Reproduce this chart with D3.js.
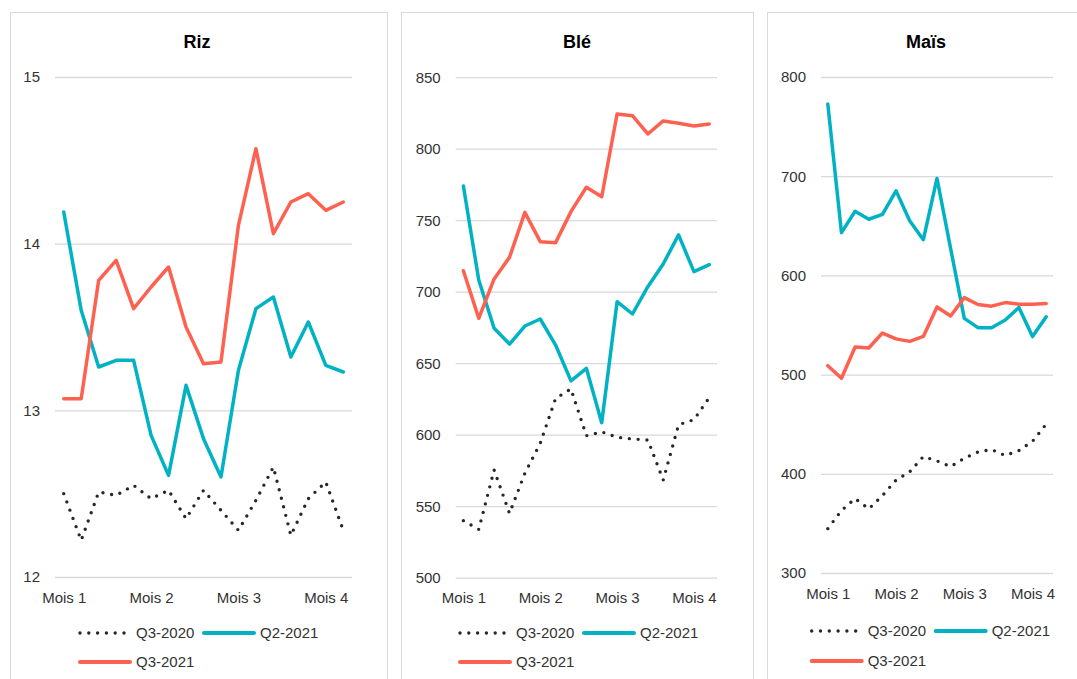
<!DOCTYPE html>
<html><head><meta charset="utf-8">
<script src="https://cdn.jsdelivr.net/npm/d3@7"></script>
<style>
body{margin:0;background:#fff;}
svg{display:block;font-family:"Liberation Sans",Arial,Helvetica,sans-serif;}
</style></head><body>
<svg id="c" width="1077" height="679"></svg>
<script>
// ---- data ----
const titles = ["Riz", "Blé", "Maïs"];
const seriesNames = ["Q3-2020", "Q2-2021", "Q3-2021"];
const periods = [0, 1, 2, 3, 4, 5, 6, 7, 8, 9, 10, 11, 12, 13, 14, 15, 16];
const monthTicks = [0, 5, 10, 15];
const monthLabels = ["Mois 1", "Mois 2", "Mois 3", "Mois 4"];

const rizTicks = [12, 13, 14, 15];
const bleTicks = [500, 550, 600, 650, 700, 750, 800, 850];
const maisTicks = [300, 400, 500, 600, 700, 800];

const rizQ3_2020 = [12.50, 12.22, 12.51, 12.49, 12.55, 12.47, 12.52, 12.35, 12.52, 12.40, 12.28, 12.46, 12.66, 12.25, 12.47, 12.57, 12.28];
const rizQ2_2021 = [14.19, 13.60, 13.26, 13.30, 13.30, 12.85, 12.61, 13.15, 12.83, 12.60, 13.24, 13.61, 13.68, 13.32, 13.53, 13.27, 13.23];
const rizQ3_2021 = [13.07, 13.07, 13.78, 13.90, 13.61, 13.74, 13.86, 13.50, 13.28, 13.29, 14.11, 14.57, 14.06, 14.25, 14.30, 14.20, 14.25];

const bleQ3_2020 = [539.9, 533.8, 575.3, 545.0, 573.0, 594.0, 625.4, 632.0, 599.3, 602.0, 598.2, 597.0, 596.3, 568.3, 607.0, 610.5, 626.0];
const bleQ2_2021 = [773.9, 708.2, 674.4, 663.4, 676.0, 680.9, 662.7, 637.6, 646.4, 608.4, 693.0, 684.4, 703.5, 719.4, 739.7, 714.0, 718.9];
const bleQ3_2021 = [714.7, 681.4, 708.9, 724.0, 755.5, 735.0, 734.3, 756.0, 773.0, 766.4, 824.3, 823.1, 810.3, 819.4, 817.8, 815.9, 817.3];

const maisQ3_2020 = [344.7, 363.0, 375.0, 364.6, 378.0, 393.7, 402.0, 417.4, 413.0, 407.3, 415.7, 422.0, 424.4, 418.4, 423.4, 432.8, 450.0];
const maisQ2_2021 = [772.7, 643.1, 664.6, 656.6, 661.6, 685.2, 655.0, 636.0, 697.7, 627.0, 556.7, 547.3, 547.3, 555.0, 567.7, 538.3, 558.3];
const maisQ3_2021 = [509.0, 496.3, 527.8, 526.8, 541.9, 536.0, 533.5, 538.5, 568.2, 559.0, 577.6, 570.6, 569.0, 572.6, 571.0, 571.0, 571.7];

// ---- layout / style ----
const colors = ["#262626", "#00B2C3", "#FF6150"];
const panels = [
  {title: titles[0], ticks: rizTicks, dom: [12, 15], series: [rizQ3_2020, rizQ2_2021, rizQ3_2021],
   box: [10.5, 12.5, 377], grid: [55, 352], yr: [577, 77], titleX: 197, xLabY: 603, leg: [80, 633, 662]},
  {title: titles[1], ticks: bleTicks, dom: [500, 850], series: [bleQ3_2020, bleQ2_2021, bleQ3_2021],
   box: [401.5, 12.5, 352], grid: [455.7, 717], yr: [577.7, 77.2], titleX: 577, xLabY: 603, leg: [460, 633, 662]},
  {title: titles[2], ticks: maisTicks, dom: [300, 800], series: [maisQ3_2020, maisQ2_2021, maisQ3_2021],
   box: [767.5, 12.5, 320], grid: [821, 1053], yr: [573, 77], titleX: 926, xLabY: 599, leg: [811.7, 631, 661]}
];

const svg = d3.select("#c");
svg.append("rect").attr("width", 1077).attr("height", 679).attr("fill", "#fff");

panels.forEach(p => {
  const g = svg.append("g");
  g.append("rect").attr("x", p.box[0]).attr("y", p.box[1]).attr("width", p.box[2]).attr("height", 720)
    .attr("fill", "#fff").attr("stroke", "#d9d9d9").attr("stroke-width", 1);

  g.append("text").attr("x", p.titleX).attr("y", 48).attr("text-anchor", "middle")
    .attr("font-size", 18).attr("font-weight", "bold").attr("fill", "#000").text(p.title);

  const x = d3.scalePoint().domain(periods).range(p.grid).padding(0.5);
  const y = d3.scaleLinear().domain(p.dom).range(p.yr);

  // y axis with gridlines
  const ya = g.append("g").attr("transform", `translate(${p.grid[0]},0)`)
    .call(d3.axisLeft(y).tickValues(p.ticks).tickSize(-(p.grid[1] - p.grid[0])).tickPadding(15).tickFormat(d3.format("d")));
  ya.select(".domain").remove();
  ya.selectAll(".tick line").attr("stroke", "#d9d9d9").attr("stroke-width", 1.3);
  ya.selectAll(".tick text").attr("font-size", 15).attr("fill", "#333")
    .attr("font-family", "Liberation Sans, Arial, sans-serif");

  // x axis labels
  const xa = g.append("g").attr("transform", `translate(0,${p.xLabY})`)
    .call(d3.axisBottom(x).tickValues(monthTicks).tickSize(0).tickPadding(0)
      .tickFormat(d => monthLabels[monthTicks.indexOf(d)]));
  xa.select(".domain").remove();
  xa.selectAll(".tick text").attr("font-size", 15).attr("fill", "#333").attr("dy", 0)
    .attr("font-family", "Liberation Sans, Arial, sans-serif");

  const line = d3.line().x((d, i) => x(periods[i])).y(d => y(d));
  p.series.forEach((s, k) => {
    const path = g.append("path").datum(s).attr("d", line).attr("fill", "none")
      .attr("stroke", colors[k]).attr("stroke-linejoin", "round").attr("stroke-linecap", "round");
    if (k === 0) path.attr("stroke-width", 3.4).attr("stroke-dasharray", "0 8.8");
    else path.attr("stroke-width", 3.5);
  });

  // legend
  const lx = p.leg[0];
  const items = [
    {k: 0, x: lx, y: p.leg[1]},
    {k: 1, x: lx + 124, y: p.leg[1]},
    {k: 2, x: lx, y: p.leg[2]}
  ];
  items.forEach(it => {
    const lg = g.append("g");
    const sw = lg.append("line").attr("x1", it.x).attr("x2", it.x + 50).attr("y1", it.y).attr("y2", it.y)
      .attr("stroke", colors[it.k]).attr("stroke-linecap", "round");
    if (it.k === 0) sw.attr("stroke-width", 3.4).attr("stroke-dasharray", "0 8.8");
    else sw.attr("stroke-width", 4);
    lg.append("text").attr("x", it.x + 56).attr("y", it.y).attr("dy", "0.36em")
      .attr("font-size", 15).attr("fill", "#333").text(seriesNames[it.k]);
  });
});
</script>
</body></html>
